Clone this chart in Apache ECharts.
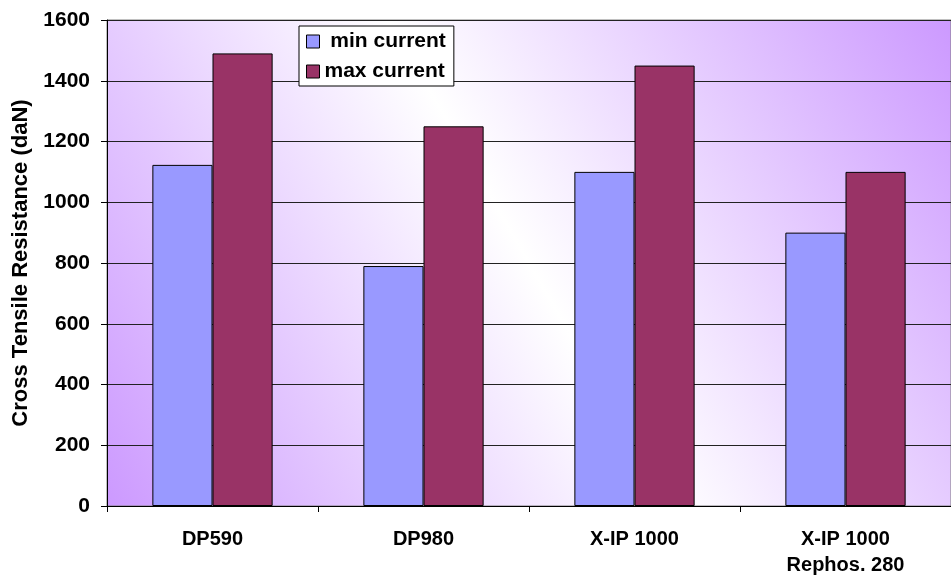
<!DOCTYPE html>
<html>
<head>
<meta charset="utf-8">
<script src="https://cdn.jsdelivr.net/npm/echarts@6/dist/echarts.min.js"></script>
<style>
  html, body { margin: 0; padding: 0; background: #fff; }
  #chart { width: 951px; height: 578px; }
</style>
</head>
<body>
<div id="chart"></div>
<script>
// data
const categories = ['DP590', 'DP980', 'X-IP 1000', 'X-IP 1000\nRephos. 280'];
const minCurrent = [1123, 790, 1100, 900];
const maxCurrent = [1490, 1250, 1450, 1100];
const yTicks = { min: 0, max: 1600, interval: 200 };

const chart = echarts.init(document.getElementById('chart'));
const font = '"Liberation Sans", Arial, sans-serif';

const option = {
  animation: false,
  textStyle: { fontFamily: font },
  grid: {
    left: 107,
    top: 20,
    width: 854,
    height: 487,
    show: true,
    borderColor: '#808080',
    borderWidth: 1,
    backgroundColor: {
      type: 'linear',
      x: 0, y: 1, x2: 1, y2: 0,
      colorStops: [
        { offset: 0, color: '#cc99ff' },
        { offset: 0.5, color: '#ffffff' },
        { offset: 1, color: '#cc99ff' }
      ]
    }
  },
  legend: {
    orient: 'vertical',
    left: 299,
    top: 26,
    backgroundColor: '#fff',
    borderColor: '#000',
    borderWidth: 1,
    borderRadius: 0,
    padding: [5, 8, 4, 7],
    itemWidth: 13,
    itemHeight: 13,
    itemGap: 9,
    icon: 'rect',
    itemStyle: { borderColor: '#000', borderWidth: 1 },
    textStyle: { fontFamily: font, fontWeight: 'bold', fontSize: 21, color: '#000' },
    formatter: function (name) {
      return name === 'min current' ? ' min current' : name;
    },
    data: ['min current', 'max current']
  },
  xAxis: {
    type: 'category',
    data: categories,
    axisLine: { lineStyle: { color: '#000', width: 1 } },
    axisTick: { show: true, length: 6, lineStyle: { color: '#000' } },
    axisLabel: {
      color: '#000',
      fontFamily: font,
      fontWeight: 'bold',
      fontSize: 20,
      lineHeight: 26,
      margin: 20,
      interval: 0
    }
  },
  yAxis: {
    type: 'value',
    min: yTicks.min,
    max: yTicks.max,
    interval: yTicks.interval,
    name: 'Cross Tensile Resistance (daN)',
    nameLocation: 'middle',
    nameGap: 74,
    nameTextStyle: { color: '#000', fontFamily: font, fontWeight: 'bold', fontSize: 22 },
    axisLine: { show: true, lineStyle: { color: '#000', width: 1 } },
    axisTick: { show: true, length: 6, lineStyle: { color: '#000' } },
    axisLabel: {
      color: '#000', fontFamily: font, fontWeight: 'bold', fontSize: 21, margin: 17,
      formatter: function (v) { return String(v); }
    },
    splitLine: { show: true, lineStyle: { color: '#222', width: 1 } }
  },
  series: [
    {
      name: 'min current',
      type: 'bar',
      data: minCurrent,
      barGap: '0%',
      barCategoryGap: '43%',
      itemStyle: { color: '#9999ff', borderColor: '#000', borderWidth: 1 }
    },
    {
      name: 'max current',
      type: 'bar',
      data: maxCurrent,
      barGap: '0%',
      barCategoryGap: '43%',
      itemStyle: { color: '#993366', borderColor: '#000', borderWidth: 1 }
    }
  ]
};

chart.setOption(option);
</script>
</body>
</html>
